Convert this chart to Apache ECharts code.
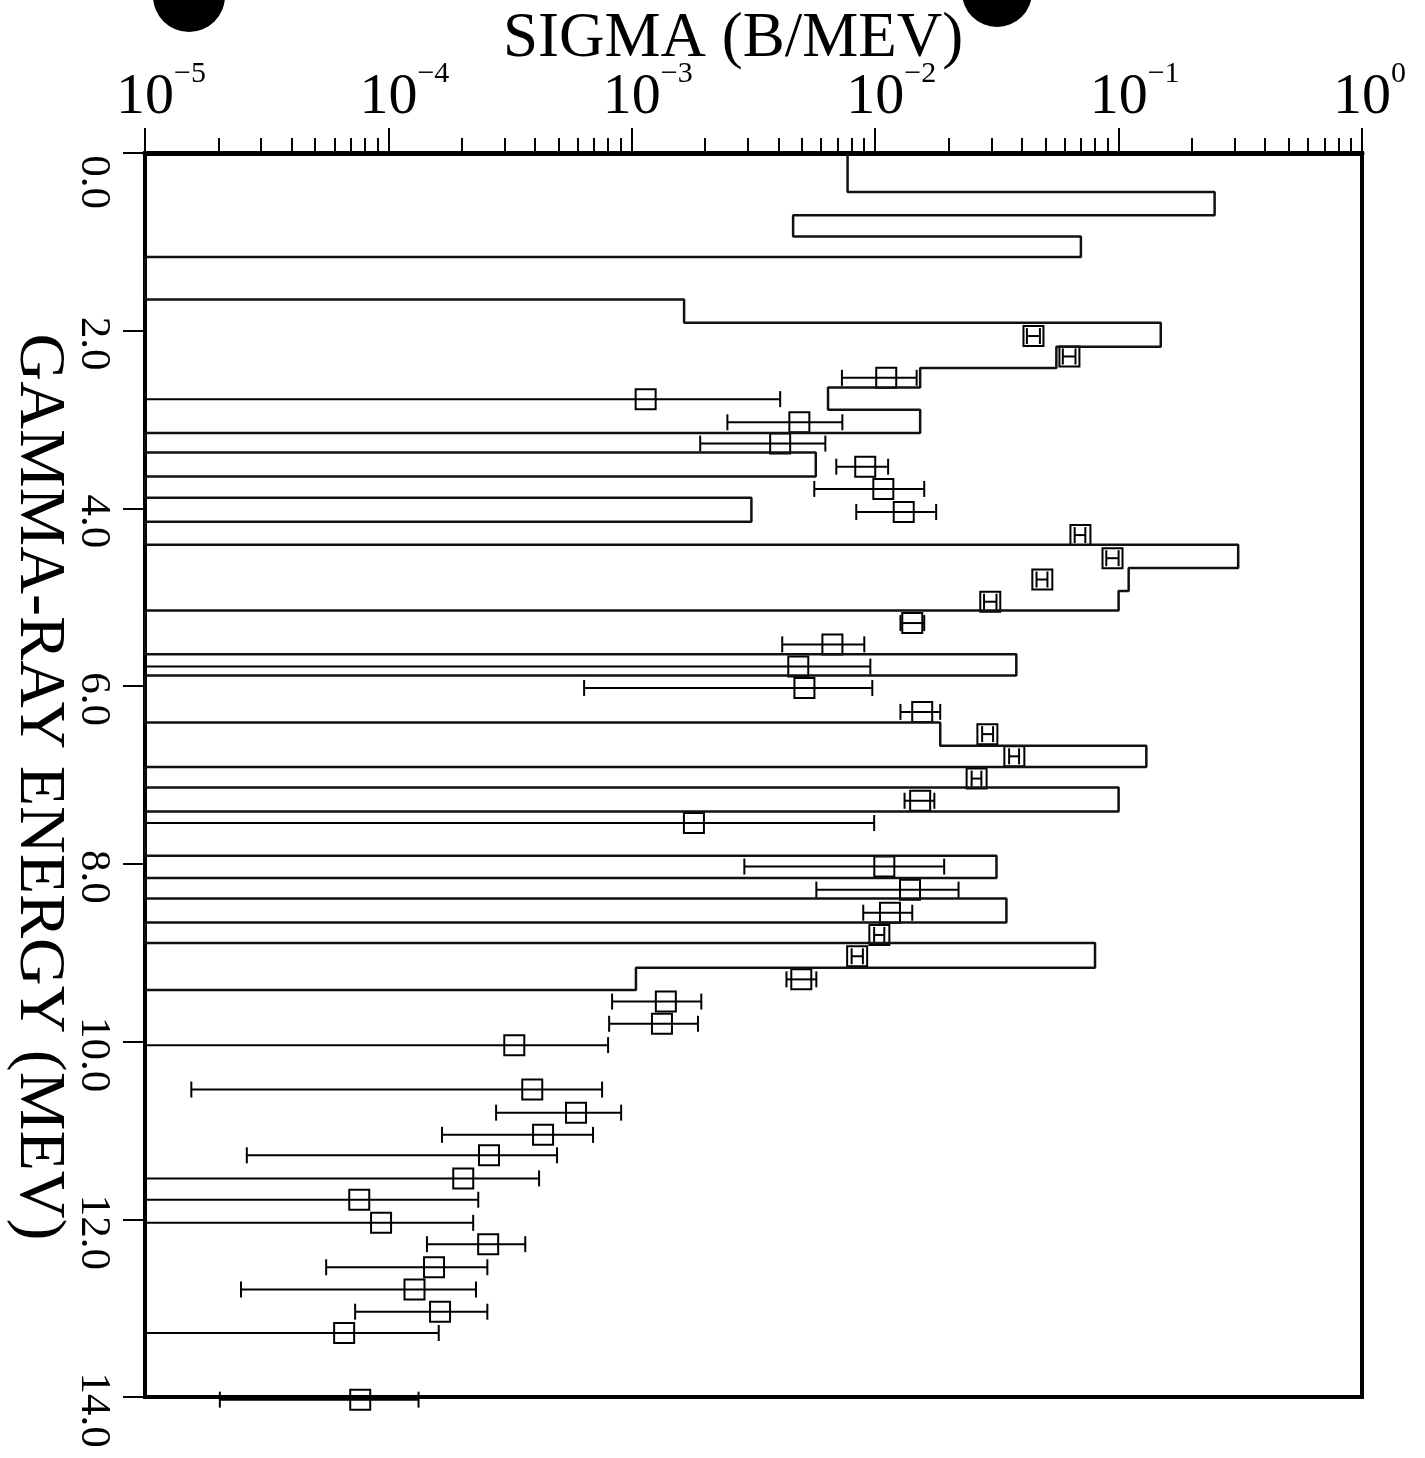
<!DOCTYPE html>
<html>
<head>
<meta charset="utf-8">
<script src="https://cdn.jsdelivr.net/npm/echarts@6/dist/echarts.min.js"></script>
<style>
html,body{margin:0;padding:0;background:#fff;}
#chart{width:1425px;height:1458px;}
</style>
</head>
<body>
<div id="chart"></div>
<script>
// ---- axis settings / tick labels ----
const X_MIN = 1e-5, X_MAX = 1;
const DECADE_EXPONENTS = [-5, -4, -3, -2, -1, 0];
const MINOR_MULTIPLIERS = [2, 3, 4, 5, 6, 7, 8, 9];
const Y_MIN = 0, Y_MAX = 14, Y_STEP = 2;

// ---- histogram (step outline): bin edges in MeV, bin values in b/MeV (0 = empty bin) ----
const HIST_EDGES = [0, 0.44, 0.70, 0.94, 1.17, 1.65, 1.91, 2.18, 2.42, 2.64, 2.89, 3.15, 3.37, 3.64,
  3.88, 4.15, 4.41, 4.67, 4.93, 5.15, 5.64, 5.88, 6.41, 6.67, 6.91, 7.14, 7.41, 7.91, 8.16, 8.39,
  8.66, 8.89, 9.17, 9.42];
const HIST_VALUES = [7.7e-3, 0.248, 4.6e-3, 0.070, 0, 1.64e-3, 0.149, 0.0555, 0.0153, 6.4e-3,
  0.0153, 0, 5.7e-3, 0, 3.1e-3, 0, 0.31, 0.110, 0.100, 0, 0.038, 0, 0.0185, 0.130, 0, 0.100, 0,
  0.0315, 0, 0.0346, 0, 0.080, 1.04e-3];

// ---- data points with horizontal error bars (lower bound 0 = open to the axis) ----
const PT_ENERGY = [2.06, 2.29, 2.53, 2.77, 3.03, 3.27, 3.53, 3.78, 4.04, 4.30, 4.56, 4.80, 5.05,
  5.29, 5.53, 5.78, 6.02, 6.29, 6.54, 6.79, 7.04, 7.29, 7.54, 8.03, 8.29, 8.55, 8.80, 9.04, 9.30,
  9.55, 9.80, 10.04, 10.54, 10.80, 11.05, 11.28, 11.54, 11.78, 12.04, 12.28, 12.54, 12.79, 13.04,
  13.28, 14.03];
const PT_SIGMA = [0.0447, 0.0628, 0.0111, 1.14e-3, 4.88e-3, 4.07e-3, 9.10e-3, 0.0108, 0.0131,
  0.0697, 0.0944, 0.0486, 0.0297, 0.0142, 6.67e-3, 4.83e-3, 5.12e-3, 0.0156, 0.0289, 0.0373,
  0.0261, 0.0153, 1.80e-3, 0.0109, 0.0139, 0.0115, 0.0104, 8.43e-3, 4.97e-3, 1.38e-3, 1.33e-3,
  3.29e-4, 3.90e-4, 5.90e-4, 4.32e-4, 2.59e-4, 2.03e-4, 7.59e-5, 9.33e-5, 2.57e-4, 1.54e-4,
  1.28e-4, 1.63e-4, 6.58e-5, 7.66e-5];
const PT_LO = [0.042, 0.059, 7.3e-3, 0, 2.47e-3, 1.91e-3, 6.92e-3, 5.62e-3, 8.36e-3, 0.066, 0.089,
  0.046, 0.028, 0.0127, 4.15e-3, 0, 6.37e-4, 0.0127, 0.0275, 0.0355, 0.0249, 0.0132, 0, 2.90e-3,
  5.73e-3, 8.93e-3, 9.9e-3, 8.0e-3, 4.32e-3, 8.3e-4, 8.07e-4, 0, 1.55e-5, 2.77e-4, 1.66e-4,
  2.62e-5, 0, 0, 0, 1.44e-4, 5.55e-5, 2.48e-5, 7.30e-5, 0, 2.03e-5];
const PT_HI = [0.0475, 0.0665, 0.0148, 4.07e-3, 7.33e-3, 6.24e-3, 0.0113, 0.0159, 0.0178, 0.073,
  0.100, 0.051, 0.0315, 0.0159, 9.02e-3, 9.55e-3, 9.73e-3, 0.0185, 0.0305, 0.039, 0.0273, 0.0175,
  9.9e-3, 0.0192, 0.0220, 0.0142, 0.0109, 8.9e-3, 5.73e-3, 1.93e-3, 1.87e-3, 7.99e-4, 7.55e-4,
  9.04e-4, 6.93e-4, 4.93e-4, 4.16e-4, 2.34e-4, 2.23e-4, 3.65e-4, 2.55e-4, 2.29e-4, 2.55e-4,
  1.61e-4, 1.33e-4];

// ---- build library inputs from the arrays ----
const histPath = [];
for (let i = 0; i < HIST_VALUES.length; i++) {
  const v = HIST_VALUES[i] > 0 ? HIST_VALUES[i] : X_MIN;
  histPath.push([v, HIST_EDGES[i]]);
  histPath.push([v, HIST_EDGES[i + 1]]);
}
histPath.push([X_MIN, HIST_EDGES[HIST_EDGES.length - 1]]);

const pointData = PT_ENERGY.map((e, i) => [e, PT_SIGMA[i], PT_LO[i], PT_HI[i]]);

const minorTickExps = [];
DECADE_EXPONENTS.slice(0, -1).forEach(d => {
  MINOR_MULTIPLIERS.forEach(m => minorTickExps.push(d + Math.log10(m)));
});

const SERIF = 'Liberation Serif';
const chart = echarts.init(document.getElementById('chart'), null, {renderer: 'canvas'});

const option = {
  animation: false,
  backgroundColor: '#fff',
  title: {
    text: 'SIGMA (B/MEV)',
    left: 503, top: 8, padding: 0,
    textStyle: {fontFamily: SERIF, fontSize: 63, fontWeight: 'normal', color: '#000'}
  },
  grid: {
    left: 145, right: 63, top: 153, bottom: 61,
    show: true, borderColor: '#000', borderWidth: 4, backgroundColor: 'transparent',
    containLabel: false, outerBoundsMode: 'none'
  },
  xAxis: [
    { // data axis (log)
      type: 'log', logBase: 10, min: X_MIN, max: X_MAX, position: 'top', show: false,
      axisLine: {onZero: false}
    },
    { // decade ticks + labels, in log10 units
      type: 'value', min: -5, max: 0, interval: 1, position: 'top',
      axisLine: {show: true, onZero: false, lineStyle: {color: '#000', width: 5}},
      axisTick: {show: true, inside: false, length: 25, lineStyle: {color: '#000', width: 2}},
      splitLine: {show: false},
      axisLabel: {
        show: true, margin: 26, color: '#000',
        formatter: function (v) {
          return v === 0 ? '{q|}{b|10}{s|0}' : '{p|}{b|10}{s|\u2212' + (-v) + '}';
        },
        rich: {
          b: {fontFamily: SERIF, fontSize: 58, color: '#000', verticalAlign: 'bottom', padding: [10, 0, 0, 0]},
          s: {fontFamily: SERIF, fontSize: 30, color: '#000', verticalAlign: 'top'},
          p: {width: 32},
          q: {width: 15}
        }
      }
    },
    { // minor ticks
      type: 'value', min: -5, max: 0, position: 'top',
      axisLine: {show: false, onZero: false},
      axisTick: {show: true, inside: false, length: 15, customValues: minorTickExps,
        lineStyle: {color: '#000', width: 2}},
      axisLabel: {show: false},
      splitLine: {show: false}
    }
  ],
  yAxis: [{
    type: 'value', inverse: true, min: Y_MIN, max: Y_MAX, interval: Y_STEP, position: 'left',
    name: 'GAMMA-RAY ENERGY (MEV)', nameLocation: 'middle', nameRotate: -90, nameGap: 74,
    nameMoveOverlap: false,
    nameTextStyle: {fontFamily: SERIF, fontSize: 66, color: '#000', padding: [0, 0, 0, 24]},
    axisLine: {show: true, onZero: false, lineStyle: {color: '#000', width: 4}},
    axisTick: {show: true, inside: false, length: 22, lineStyle: {color: '#000', width: 2}},
    splitLine: {show: false},
    axisLabel: {
      show: true, rotate: -90, align: 'center', verticalAlign: 'top', margin: 30,
      fontFamily: SERIF, fontSize: 43, color: '#000',
      formatter: v => (v === 0 ? '{z|' : '{n|') + v.toFixed(1) + '}',
      rich: {
        n: {fontFamily: SERIF, fontSize: 43, color: '#000', padding: [0, 0, 0, 26]},
        z: {fontFamily: SERIF, fontSize: 43, color: '#000', padding: [0, 0, 0, 58]}
      }
    }
  }],
  graphic: [
    {type: 'circle', shape: {cx: 189, cy: -4, r: 36}, style: {fill: '#000'}, z: 100},
    {type: 'circle', shape: {cx: 997, cy: -8, r: 35}, style: {fill: '#000'}, z: 100}
  ],
  series: [
    {
      type: 'line', name: 'histogram', xAxisIndex: 0, yAxisIndex: 0,
      data: histPath, symbol: 'none', clip: false,
      lineStyle: {color: '#111', width: 2.5}
    },
    {
      type: 'custom', name: 'points', xAxisIndex: 0, yAxisIndex: 0,
      data: pointData, encode: {x: 1, y: 0}, clip: false,
      renderItem: function (params, api) {
        const e = api.value(0), s = api.value(1), lo = api.value(2), hi = api.value(3);
        const c = api.coord([s, e]);
        const yy = c[1];
        const xl = api.coord([lo > 0 ? lo : X_MIN, e])[0];
        const xr = api.coord([hi, e])[0];
        const st = {stroke: '#000', lineWidth: 2, fill: null};
        const CAP = 8, H = 10;
        const kids = [
          {type: 'line', shape: {x1: xl, y1: yy, x2: xr, y2: yy}, style: st},
          {type: 'line', shape: {x1: xr, y1: yy - CAP, x2: xr, y2: yy + CAP}, style: st}
        ];
        if (lo > 0) kids.push({type: 'line', shape: {x1: xl, y1: yy - CAP, x2: xl, y2: yy + CAP}, style: st});
        kids.push({type: 'rect', shape: {x: c[0] - H, y: yy - H, width: 2 * H, height: 2 * H},
          style: {stroke: '#000', lineWidth: 2, fill: 'rgba(0,0,0,0)'}});
        return {type: 'group', children: kids};
      }
    }
  ]
};
chart.setOption(option);
</script>
</body>
</html>
